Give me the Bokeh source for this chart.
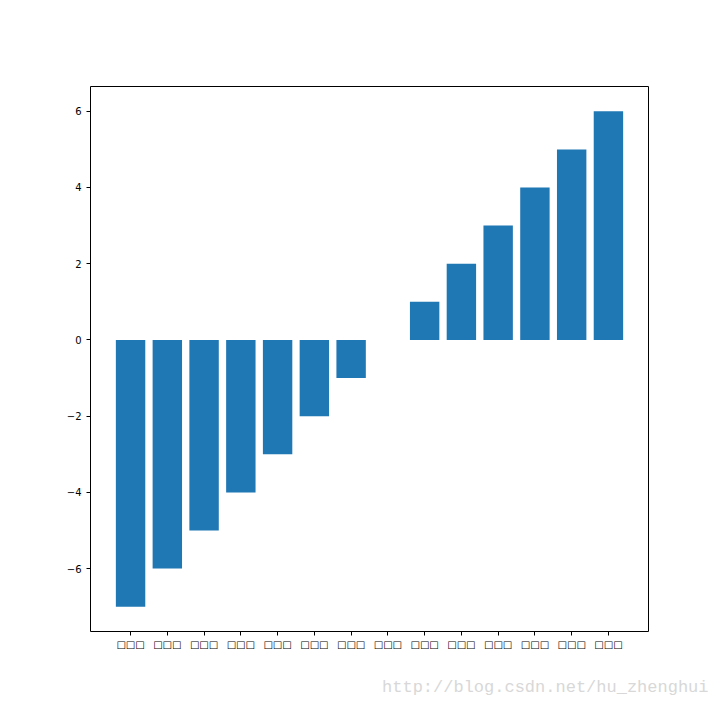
from bokeh.plotting import figure
from bokeh.models import FixedTicker, Range1d, Title
from bokeh.embed import file_html
from bokeh.resources import INLINE

# Data
labels = ["□□□"] * 14
positions = list(range(14))
values = [-7, -6, -5, -4, -3, -2, -1, 0, 1, 2, 3, 4, 5, 6]
y_ticks = [-6, -4, -2, 0, 2, 4, 6]

p = figure(width=720, height=720, output_backend="svg", toolbar_location=None,
           x_range=Range1d(-1.09, 14.09), y_range=Range1d(-7.65, 6.65),
           min_border_left=90, min_border_right=72, min_border_top=86, min_border_bottom=0)

p.vbar(x=positions, top=values, bottom=0, width=0.8, color="#1f77b4", line_color=None)

p.grid.visible = False
p.outline_line_color = "black"
p.outline_line_width = 1
p.background_fill_color = "white"
p.border_fill_color = "white"

p.xaxis.ticker = FixedTicker(ticks=positions)
p.xaxis.major_label_overrides = {i: l for i, l in zip(positions, labels)}
p.yaxis.ticker = FixedTicker(ticks=y_ticks)
p.yaxis.major_label_overrides = {t: (("\u2212" + str(-t)) if t < 0 else str(t)) for t in y_ticks}

for ax in (p.xaxis[0], p.yaxis[0]):
    ax.axis_line_color = None
    ax.minor_tick_line_color = None
    ax.major_tick_out = 4
    ax.major_tick_in = 0
    ax.major_tick_line_color = "black"
    ax.major_label_text_font = "DejaVu Sans"
    ax.major_label_text_font_size = "10px"
    ax.major_label_text_color = "black"
p.xaxis.major_label_standoff = 3
p.yaxis.major_label_standoff = 5

wm = Title(text="http://blog.csdn.net/hu_zhenghui", align="right",
           text_font="Liberation Mono", text_font_style="normal",
           text_font_size="17px", text_color="#d8d8d8",
           offset=-60, standoff=47)
p.add_layout(wm, "below")

open("out.html", "w").write(file_html(p, INLINE))
